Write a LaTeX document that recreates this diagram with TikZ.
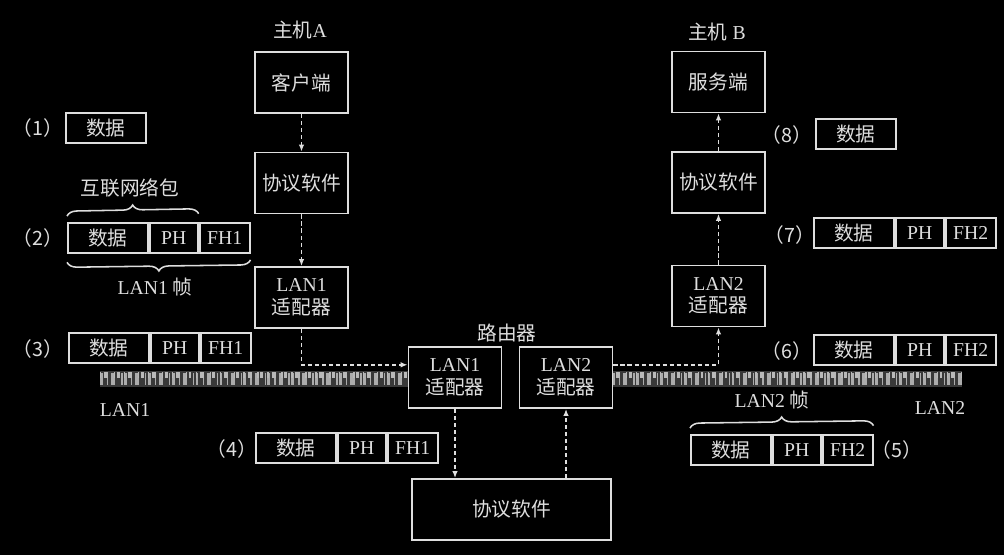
\documentclass[tikz,border=0pt]{standalone}
\usepackage{fontspec}
\setmainfont{Liberation Serif}
\newfontfamily\cjk{Noto Sans CJK SC}
\usetikzlibrary{positioning,decorations.pathreplacing,arrows.meta}
\definecolor{fg}{RGB}{222,222,222}
\begin{document}
\begin{tikzpicture}
	[x=0.025cm,y=-0.025cm,font=\fontsize{14}{16}\selectfont,
	box/.style={draw=fg,line width=1.3pt,minimum width=2.325cm,minimum height=1.525cm,align=center,inner sep=1pt,text=fg},
	cell/.style={draw=fg,line width=1.3pt,minimum height=0.75cm,inner sep=0pt,text=fg},
	datacell/.style={cell,minimum width=2cm},
	phcell/.style={cell,minimum width=1.2cm},
	fhcell/.style={cell,minimum width=1.25cm},
	lbl/.style={text=fg,inner sep=1pt},
	link/.style={-{Latex[length=5pt,width=4pt]},dashed,dash pattern=on 3pt off 2pt,fg,line width=1.1pt},
	brc/.style={decorate,decoration={brace,amplitude=7pt},fg,line width=1.1pt},
	lan/.style={gray!45!black,line width=0.42cm},
	lanfuzz/.style={gray!65,line width=0.32cm,dash pattern=on 2pt off 3pt on 1pt off 2pt on 3pt off 4pt on 1pt off 1pt}]
	\fill[black] (0,0) rectangle (1004,555);
	\useasboundingbox (0,0) rectangle (1004,555);
	% LAN cables
	\draw[lan] (100,379) -- (408,379);
	\draw[lan] (612,379) -- (962,379);
	\draw[lanfuzz] (100,379) -- (408,379);
	\draw[lanfuzz] (612,379) -- (962,379);
	\draw[lanfuzz,gray!55,line width=0.15cm,dash phase=5pt] (100,375) -- (408,375);
	\draw[lanfuzz,gray!55,line width=0.15cm,dash phase=5pt] (612,375) -- (962,375);
	% host A
	\node[lbl,name=hostA] at (300,30) {\cjk 主机\rmfamily A};
	\node[box,name=cliA] at (301.5,82.5) {\cjk 客户端};
	\node[box,name=swA] at (301.5,183) {\cjk 协议软件};
	\node[box,name=adA] at (301.5,297.5) {LAN1\\\cjk 适配器};
	% router
	\node[lbl,name=router] at (507,333) {\cjk 路由器};
	\node[box,name=adR1] at (455,377.5) {LAN1\\\cjk 适配器};
	\node[box,name=adR2] at (566,377.5) {LAN2\\\cjk 适配器};
	\node[box,name=swR,minimum width=4.975cm] at (511.5,509.5) {\cjk 协议软件};
	% host B
	\node[lbl,name=hostB] at (717,32) {\cjk 主机\rmfamily~B};
	\node[box,name=srvB] at (718.5,82) {\cjk 服务端};
	\node[box,name=swB] at (718.5,182.5) {\cjk 协议软件};
	\node[box,name=adB] at (718.5,296) {LAN2\\\cjk 适配器};
	\draw[link](cliA) -- (swA);
	\draw[link](swA) -- (adA);
	\draw[link](adA.south) |- (adR1.165);
	\draw[link](adR1) -- (adR1 |- swR.north);
	\draw[link](swR.north -| adR2) -- (adR2);
	\draw[link](adR2.15) -| (adB.south);
	\draw[link](adB) -- (swB);
	\draw[link](swB) -- (srvB);
	% packets
	\node[lbl,name=n1] at (38,128) {\cjk （1）};
	\node[datacell,anchor=west,name=d1] at (65,128) {\cjk 数据};
	\node[lbl,name=n2] at (38,238) {\cjk （2）};
	\node[datacell,anchor=west,name=d2] at (67,238) {\cjk 数据};
	\node[phcell,right=0pt of d2,name=p2] {PH};
	\node[fhcell,right=0pt of p2,name=f2] {FH1};
	\draw[brc] (d2.north west) ++(0,-6) -- ([yshift=6]p2.north east);
	\node[lbl,name=pkt] at (130,188) {\cjk 互联网络包};
	\draw[brc] (f2.south east) ++(0,6) -- ([yshift=-6]d2.south west);
	\node[lbl,name=frm1] at (155,287) {LAN1 \cjk 帧};
	\node[lbl,name=n3] at (38,349) {\cjk （3）};
	\node[datacell,anchor=west,name=d3] at (68,348) {\cjk 数据};
	\node[phcell,right=0pt of d3,name=p3] {PH};
	\node[fhcell,right=0pt of p3,name=f3] {FH1};
	\node[lbl,name=lan1] at (125,410) {LAN1};
	\node[lbl,name=n4] at (232,449) {\cjk （4）};
	\node[datacell,anchor=west,name=d4] at (255,448) {\cjk 数据};
	\node[phcell,right=0pt of d4,name=p4] {PH};
	\node[fhcell,right=0pt of p4,name=f4] {FH1};
	\node[datacell,anchor=west,name=d5] at (690,450) {\cjk 数据};
	\node[phcell,right=0pt of d5,name=p5] {PH};
	\node[fhcell,right=0pt of p5,name=f5] {FH2};
	\node[lbl,name=n5] at (897,450) {\cjk （5）};
	\draw[brc] (d5.north west) ++(0,-6) -- ([yshift=6]f5.north east);
	\node[lbl,name=frm2] at (772,400) {LAN2 \cjk 帧};
	\node[lbl,name=lan2] at (940,408) {LAN2};
	\node[lbl,name=n6] at (787,351) {\cjk （6）};
	\node[datacell,anchor=west,name=d6] at (813,350) {\cjk 数据};
	\node[phcell,right=0pt of d6,name=p6] {PH};
	\node[fhcell,right=0pt of p6,name=f6] {FH2};
	\node[lbl,name=n7] at (790,235) {\cjk （7）};
	\node[datacell,anchor=west,name=d7] at (813,233) {\cjk 数据};
	\node[phcell,right=0pt of d7,name=p7] {PH};
	\node[fhcell,right=0pt of p7,name=f7] {FH2};
	\node[lbl,name=n8] at (787,135) {\cjk （8）};
	\node[datacell,anchor=west,name=d8] at (815,134) {\cjk 数据};
\end{tikzpicture}
\end{document}
